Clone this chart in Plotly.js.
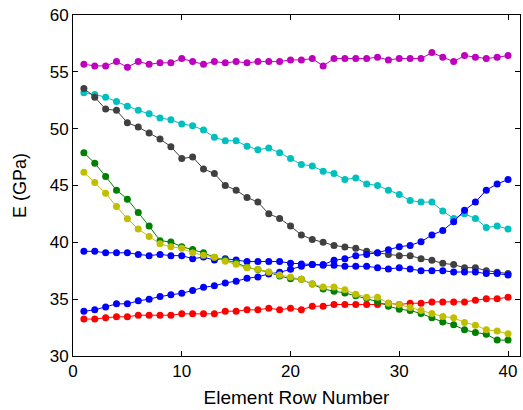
<!DOCTYPE html>
<html>
<head>
<meta charset="utf-8">
<script src="https://cdn.plot.ly/plotly-3.0.1.min.js"></script>
<style>html,body{margin:0;padding:0;background:#fff;}#chart{width:523px;height:410px;}</style>
</head>
<body>
<div id="chart"></div>
<script>
// Element row numbers
const rows = Array.from({length: 40}, (_, i) => i + 1);

// E (GPa) per element row, one array per curve
const magentaE = [55.67, 55.52, 55.52, 55.9, 55.41, 55.9, 55.67, 55.79, 55.79, 56.17, 55.9, 55.67, 55.9, 55.79, 55.9, 55.79, 55.9, 55.9, 55.9, 56.05, 56.05, 56.17, 55.52, 56.17, 56.17, 56.17, 56.17, 56.28, 56.05, 56.17, 56.17, 56.17, 56.69, 56.28, 55.9, 56.43, 56.28, 56.17, 56.28, 56.43];
const cyanE = [53.16, 53.0, 52.77, 52.39, 51.98, 51.61, 51.31, 50.93, 50.79, 50.41, 50.26, 49.88, 49.24, 48.94, 48.94, 48.45, 48.15, 48.30, 47.89, 47.37, 46.85, 46.72, 46.26, 46.05, 45.52, 45.67, 45.14, 45.0, 44.59, 44.21, 43.68, 43.54, 43.54, 42.75, 42.1, 42.51, 42.1, 41.31, 41.43, 41.17];
const grayE = [53.54, 52.77, 51.72, 51.61, 50.52, 50.14, 49.62, 49.09, 48.42, 47.37, 47.51, 46.46, 46.05, 45.0, 44.59, 43.95, 43.54, 42.51, 42.1, 41.43, 40.64, 40.26, 40.0, 39.73, 39.59, 39.47, 39.21, 39.06, 38.94, 38.83, 38.83, 38.56, 38.42, 38.15, 38.04, 37.77, 37.77, 37.51, 37.36, 37.25];
const greenE = [47.89, 46.96, 45.8, 44.59, 43.8, 42.63, 41.43, 40.15, 40.03, 39.62, 39.36, 39.08, 38.68, 38.46, 38.2, 37.8, 37.6, 37.37, 37.03, 36.8, 36.75, 36.34, 35.90, 35.70, 35.55, 35.29, 35.06, 34.79, 34.38, 34.12, 34.0, 33.74, 33.36, 33.0, 32.75, 32.30, 32.07, 31.92, 31.40, 31.40];
const yellowE = [46.16, 45.26, 44.32, 43.15, 42.08, 41.17, 40.52, 39.87, 39.61, 39.47, 39.07, 38.86, 38.69, 38.34, 38.07, 37.77, 37.64, 37.38, 37.13, 36.96, 36.75, 36.34, 36.08, 36.08, 35.82, 35.44, 35.17, 35.17, 34.64, 34.53, 34.26, 34.0, 33.74, 33.48, 33.36, 32.95, 32.71, 32.30, 32.19, 31.95];
const blueFlatE = [39.21, 39.21, 39.08, 39.08, 39.08, 38.94, 38.83, 38.94, 38.83, 38.83, 38.56, 38.70, 38.44, 38.56, 38.44, 38.31, 38.31, 38.31, 38.31, 38.17, 38.1, 38.04, 37.98, 37.98, 37.89, 37.89, 37.89, 37.77, 37.65, 37.77, 37.65, 37.51, 37.51, 37.51, 37.39, 37.39, 37.39, 37.25, 37.25, 37.13];
const blueRiseE = [33.94, 34.06, 34.32, 34.59, 34.59, 34.85, 35.0, 35.23, 35.38, 35.52, 35.76, 36.05, 36.17, 36.43, 36.58, 36.84, 36.96, 37.22, 37.36, 37.63, 37.89, 38.04, 38.04, 38.42, 38.56, 38.83, 38.94, 39.08, 39.35, 39.61, 39.73, 40.06, 40.64, 41.05, 41.81, 42.82, 43.54, 44.59, 45.14, 45.52];
const redE = [33.25, 33.25, 33.36, 33.45, 33.45, 33.59, 33.59, 33.59, 33.59, 33.71, 33.71, 33.71, 33.71, 33.94, 33.94, 34.06, 34.06, 34.21, 34.06, 34.21, 34.06, 34.38, 34.38, 34.53, 34.53, 34.53, 34.53, 34.53, 34.64, 34.53, 34.64, 34.64, 34.76, 34.76, 34.76, 34.76, 34.91, 35.03, 35.03, 35.17];

const xTicks = [0, 10, 20, 30, 40];
const yTicks = [30, 35, 40, 45, 50, 55, 60];

const series = [
  {y: magentaE, c: '#bf00bf'},
  {y: cyanE, c: '#00bfbf'},
  {y: grayE, c: '#404040'},
  {y: redE, c: '#ff0000'},
  {y: blueRiseE, c: '#0000ff'},
  {y: blueFlatE, c: '#0000ff'},
  {y: greenE, c: '#008000'},
  {y: yellowE, c: '#bfbf00'}
];

const traces = series.map(s => ({
  x: rows, y: s.y, type: 'scatter', mode: 'lines+markers',
  line: {color: s.c, width: 1},
  marker: {color: s.c, size: 7, symbol: 'circle'},
  showlegend: false, hoverinfo: 'skip'
}));

const fam = 'Liberation Sans, Arial, sans-serif';
const tickFont = {family: fam, size: 17, color: '#000'};
const xTitleFont = {family: fam, size: 19, color: '#000'};
const yTitleFont = {family: fam, size: 18, color: '#000'};

const layout = {
  width: 523, height: 410,
  margin: {l: 73, r: 3, t: 15, b: 54, pad: 0},
  paper_bgcolor: '#fff', plot_bgcolor: '#fff',
  font: tickFont,
  xaxis: {
    range: [0, 41.1], tickvals: xTicks, ticktext: xTicks.map(String),
    ticks: 'inside', ticklen: 5, tickcolor: '#000', tickwidth: 1,
    showline: true, linecolor: '#000', linewidth: 1, mirror: 'ticks',
    showgrid: false, zeroline: false,
    tickfont: tickFont,
    title: {text: 'Element Row Number', font: xTitleFont, standoff: 10}
  },
  yaxis: {
    range: [30, 60], tickvals: yTicks, ticktext: yTicks.map(String),
    ticks: 'inside', ticklen: 5, tickcolor: '#000', tickwidth: 1,
    showline: true, linecolor: '#000', linewidth: 1, mirror: 'ticks',
    showgrid: false, zeroline: false,
    tickfont: tickFont,
    title: {text: 'E (GPa)', font: yTitleFont, standoff: 18}
  }
};

Plotly.newPlot('chart', traces, layout, {staticPlot: true, displayModeBar: false});
</script>
</body>
</html>
